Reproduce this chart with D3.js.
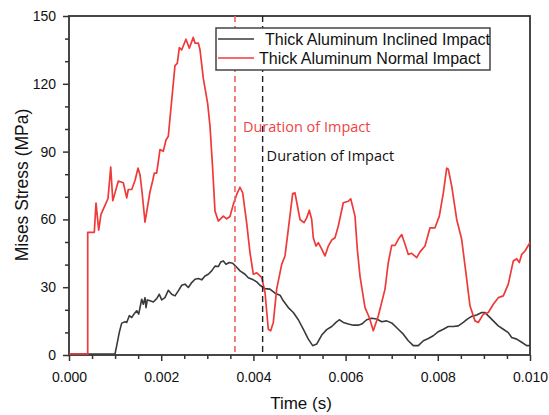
<!DOCTYPE html>
<html>
<head>
<meta charset="utf-8">
<script src="https://cdn.jsdelivr.net/npm/d3@7"></script>
<style>
  html, body { margin: 0; padding: 0; background: #fff; }
  svg { display: block; }
</style>
</head>
<body>
<svg id="chart" width="549" height="415"></svg>
<script>
// ---- data (time in ms, stress in MPa) ----
const normalTime = [0, 0.406, 0.406, 0.549, 0.586, 0.644, 0.694, 0.781, 0.846, 0.905, 0.95, 0.998, 1.069, 1.178, 1.252, 1.286, 1.360, 1.432, 1.497, 1.540, 1.584, 1.649, 1.757, 1.816, 1.850, 1.902, 1.974, 2.046, 2.104, 2.154, 2.299, 2.349, 2.393, 2.445, 2.538, 2.610, 2.696, 2.733, 2.805, 2.842, 2.913, 3.009, 3.059, 3.117, 3.167, 3.239, 3.347, 3.421, 3.492, 3.564, 3.638, 3.709, 3.768, 3.855, 3.926, 3.998, 4.072, 4.180, 4.252, 4.323, 4.375, 4.432, 4.505, 4.614, 4.685, 4.757, 4.852, 4.902, 5.011, 5.098, 5.156, 5.213, 5.265, 5.299, 5.358, 5.408, 5.482, 5.553, 5.625, 5.699, 5.770, 5.842, 5.950, 6.059, 6.111, 6.204, 6.254, 6.312, 6.421, 6.514, 6.601, 6.709, 6.855, 6.926, 7.000, 7.072, 7.143, 7.217, 7.289, 7.360, 7.434, 7.542, 7.614, 7.722, 7.831, 7.939, 8.033, 8.120, 8.193, 8.228, 8.302, 8.410, 8.518, 8.627, 8.698, 8.807, 8.878, 8.987, 9.095, 9.204, 9.312, 9.421, 9.529, 9.638, 9.711, 9.768, 9.820, 9.892, 10.0];
const normalStress = [0, 0, 54, 54, 67, 55, 62, 66, 69, 83, 68, 71.5, 76.7, 76, 69.3, 73, 73, 77, 82.5, 79.6, 72, 58.5, 72, 77, 80.3, 80.3, 90.7, 90, 95, 96.6, 128, 129, 136, 135, 139.7, 135.7, 140.5, 138, 138, 135, 122.4, 111, 101, 82, 63.4, 59, 61.2, 60, 61, 66.4, 70.8, 74, 71.5, 58, 45, 35.4, 36, 34, 27.3, 11, 10.3, 14, 28.8, 39.8, 43.5, 55.3, 71.2, 71.5, 59.7, 58.3, 60.4, 63.8, 59.7, 51.6, 47.9, 49.4, 46.5, 43.5, 47.9, 50.6, 51.6, 56.8, 67.1, 67.8, 68.9, 61.2, 46.5, 34.6, 20.6, 16.2, 10.3, 16.9, 28.8, 40.6, 48.2, 48.2, 50.9, 53, 48.7, 44.2, 44.7, 42.8, 45.3, 47.9, 56, 56, 61.2, 71.5, 82.5, 82, 74.5, 59.7, 50.9, 33.2, 21.4, 14.7, 14, 17.7, 18.4, 22.1, 25, 25.8, 31, 41.3, 42.3, 40.6, 44.2, 45.7, 49.5];

const inclinedTime = [0, 0.998, 1.035, 1.091, 1.143, 1.215, 1.252, 1.308, 1.360, 1.410, 1.469, 1.512, 1.577, 1.612, 1.649, 1.670, 1.698, 1.757, 1.829, 1.902, 1.959, 2.011, 2.082, 2.154, 2.228, 2.299, 2.371, 2.445, 2.516, 2.588, 2.662, 2.733, 2.805, 2.879, 2.950, 3.022, 3.095, 3.167, 3.239, 3.291, 3.347, 3.406, 3.477, 3.551, 3.623, 3.709, 3.818, 3.889, 3.998, 4.072, 4.143, 4.252, 4.360, 4.469, 4.577, 4.649, 4.757, 4.866, 4.974, 5.082, 5.191, 5.286, 5.373, 5.482, 5.590, 5.699, 5.792, 5.863, 5.950, 6.059, 6.167, 6.275, 6.349, 6.458, 6.566, 6.675, 6.783, 6.892, 7.000, 7.143, 7.252, 7.360, 7.469, 7.577, 7.687, 7.794, 7.902, 8.011, 8.120, 8.228, 8.336, 8.445, 8.553, 8.640, 8.735, 8.843, 8.952, 9.024, 9.095, 9.204, 9.312, 9.421, 9.529, 9.603, 9.711, 9.820, 9.928, 10.0];
const inclinedStress = [0, 0, 3.7, 9.6, 13.7, 14.3, 14, 17, 16.2, 17.7, 19.2, 17.7, 24.3, 22.1, 25, 20.6, 24, 23.6, 23.1, 24.6, 26.5, 24, 25, 28.3, 26.5, 25.8, 28, 30.5, 31, 29.5, 31.7, 33.2, 33.5, 32.9, 34.6, 35.4, 36.9, 39, 38.8, 40.8, 41.3, 39.8, 40.6, 40.3, 38.8, 36.9, 35.4, 33.8, 32.9, 32, 30.5, 29, 28.8, 27, 26.1, 23.6, 20.6, 18.4, 15.2, 11, 6.6, 3.7, 4.4, 8.4, 10.8, 12.2, 14, 15.2, 14, 13.3, 12.8, 12.8, 13.3, 15.2, 15.9, 15.5, 14.3, 14.7, 13.8, 11, 8.8, 5.9, 3.7, 3.7, 5.9, 6.9, 8.1, 9.9, 11, 12.2, 12.2, 12.5, 14, 15.5, 16.7, 17.3, 18.4, 18.4, 16.9, 14.7, 12.5, 11, 9.5, 7.3, 6.6, 5.2, 3.7, 3.7];

const seriesNames = ["Thick Aluminum Inclined Impact", "Thick Aluminum Normal Impact"];
const durationTimes = [3.6, 4.2];           // ms: normal, inclined
const durationLabels = ["Duration of Impact", "Duration of Impact"];
const xTicks = [0, 2, 4, 6, 8, 10];
const xTickLabels = ["0.000", "0.002", "0.004", "0.006", "0.008", "0.010"];
const yTicks = [0, 30, 60, 90, 120, 150];
const yTickLabels = ["0", "30", "60", "90", "120", "150"];

// ---- layout ----
const svg = d3.select("#chart");
const L = 69, R = 530, T = 16, B = 355;
const x = d3.scaleLinear().domain([0, 10]).range([L, R]);
const y = d3.scaleLinear().domain([0, 150]).range([B - 1, T]);
const yAx = d3.scaleLinear().domain([0, 150]).range([B, T]);
const RED = "#ef3a3a", BLACK = "#3a3a3a", AXIS = "#333";

// frame (drawn first so the curves at zero sit on top of it)
svg.append("rect").attr("x", L).attr("y", T).attr("width", R - L).attr("height", B - T)
  .attr("fill", "none").attr("stroke", AXIS).attr("stroke-width", 1.8);

const inclined = inclinedTime.map((t, i) => [t, inclinedStress[i]]);
const normal = normalTime.map((t, i) => [t, normalStress[i]]);
const line = d3.line().x(d => x(d[0])).y(d => y(d[1]));

const g = svg.append("g");
g.append("path").datum(inclined).attr("d", line)
  .attr("fill", "none").attr("stroke", BLACK).attr("stroke-width", 1.6).attr("stroke-linejoin", "round");
g.append("path").datum(normal).attr("d", line)
  .attr("fill", "none").attr("stroke", RED).attr("stroke-width", 1.7).attr("stroke-linejoin", "round");

// dashed duration lines
svg.append("line").attr("x1", x(durationTimes[0])).attr("x2", x(durationTimes[0]))
  .attr("y1", T).attr("y2", B).attr("stroke", "#f06262").attr("stroke-width", 1.6)
  .attr("stroke-dasharray", "6,4");
svg.append("line").attr("x1", x(durationTimes[1])).attr("x2", x(durationTimes[1]))
  .attr("y1", T).attr("y2", B).attr("stroke", "#222").attr("stroke-width", 1.4)
  .attr("stroke-dasharray", "6,4");

svg.append("text").attr("x", x(durationTimes[0]) + 8).attr("y", 132)
  .attr("font-family", "'Open Sans', sans-serif").attr("font-size", 14.5)
  .attr("fill", "#ef4444").text(durationLabels[0]);
svg.append("text").attr("x", x(durationTimes[1]) + 4).attr("y", 161)
  .attr("font-family", "'Open Sans', sans-serif").attr("font-size", 14.5)
  .attr("fill", "#111").text(durationLabels[1]);

// axes
const xAxis = d3.axisBottom(x).tickValues(xTicks).tickFormat((d, i) => xTickLabels[i]).tickSize(6).tickPadding(11);
const xMinor = d3.axisBottom(x).tickValues(d3.range(0, 10.001, 0.5).filter(v => Math.abs(v % 2) > 1e-6)).tickFormat("").tickSize(4);
const yAxis = d3.axisLeft(yAx).tickValues(yTicks).tickFormat((d, i) => yTickLabels[i]).tickSize(6).tickPadding(7);
const yMinor = d3.axisLeft(yAx).tickValues(d3.range(0, 150.1, 10).filter(v => v % 30 !== 0)).tickFormat("").tickSize(4);

function style(sel) {
  sel.select(".domain").remove();
  sel.selectAll("line").attr("stroke", AXIS).attr("stroke-width", 1.5);
  sel.selectAll("text").attr("font-family", "'Liberation Sans', Arial, sans-serif").attr("font-size", 14).attr("fill", "#111");
}
svg.append("g").attr("transform", `translate(0,${B})`).call(xAxis).call(style);
svg.append("g").attr("transform", `translate(0,${B})`).call(xMinor).call(style);
svg.append("g").attr("transform", `translate(${L},0)`).call(yAxis).call(style);
svg.append("g").attr("transform", `translate(${L},0)`).call(yMinor).call(style);

// axis titles
svg.append("text").attr("x", 301).attr("y", 409)
  .attr("text-anchor", "middle").attr("font-family", "'Liberation Sans', Arial, sans-serif")
  .attr("font-size", 17).attr("fill", "#111").text("Time (s)");
svg.append("text").attr("transform", "translate(28,185) rotate(-90)")
  .attr("text-anchor", "middle").attr("font-family", "'Liberation Sans', Arial, sans-serif")
  .attr("font-size", 17.5).attr("fill", "#111").text("Mises Stress (MPa)");

// legend
const lg = svg.append("g");
lg.append("rect").attr("x", 216).attr("y", 28).attr("width", 274).attr("height", 42)
  .attr("fill", "#fff").attr("stroke", "#444").attr("stroke-width", 1.5);
const rows = [{c: BLACK, y: 39, tx: 265}, {c: RED, y: 58, tx: 259}];
rows.forEach((r, i) => {
  lg.append("line").attr("x1", 218).attr("x2", 254).attr("y1", r.y).attr("y2", r.y)
    .attr("stroke", r.c).attr("stroke-width", 1.6);
  lg.append("text").attr("x", r.tx).attr("y", r.y + 5.5)
    .attr("font-family", "'Liberation Sans', Arial, sans-serif").attr("font-size", 16)
    .attr("fill", "#111").text(seriesNames[i]);
});
</script>
</body>
</html>
